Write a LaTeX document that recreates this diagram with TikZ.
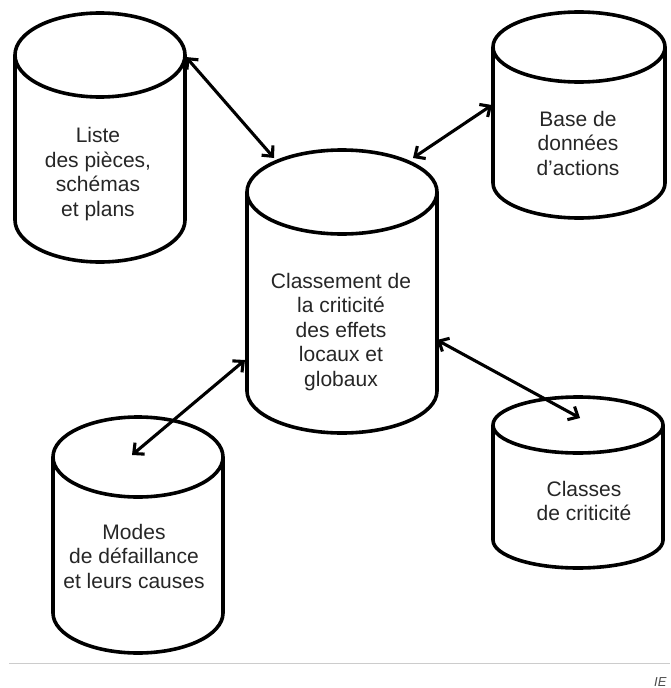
\documentclass[tikz,border=0pt]{standalone}
\usepackage{fontspec}
\setmainfont{Liberation Sans}
\usetikzlibrary{arrows.meta}

% Database drum: centre x, top ellipse centre y, bottom ellipse centre y, x radius, y radius
\newcommand{\drum}[5]{%
  \draw[drumline] ({#1-#4},{-#2}) -- ({#1-#4},{-#3})
    arc[start angle=180, end angle=360, x radius=#4pt, y radius=#5pt]
    -- ({#1+#4},{-#2});
  \draw[drumline] (#1,{-#2}) ellipse[x radius=#4pt, y radius=#5pt];
}

\tikzset{
  drumline/.style={line width=3.6pt, black, fill=white, line join=round},
  label/.style={align=center, text=black!85, inner sep=0pt,
    font=\fontsize{21}{24.5}\selectfont,
    execute at begin node=\strut, execute at end node=\strut},
  link/.style={line width=3.1pt, black,
    {Straight Barb[length=8pt,width=15pt]}-{Straight Barb[length=8pt,width=15pt]}},
}

\begin{document}
\begin{tikzpicture}[x=1pt,y=1pt]
  \useasboundingbox (0,0) rectangle (670,-688);

  % the five data stores
  \drum{100}{55}{220}{85}{42}
  \drum{579}{47}{183}{86}{35}
  \drum{342}{192}{391}{95}{42}
  \drum{138}{457}{613}{85}{40}
  \drum{578}{425}{540}{85}{28}

  % captions
  \node[label] (liste)   at (98,-175.6)  {Liste\\des pièces,\\schémas\\ et plans};
  \node[label] (base)    at (578,-146.6) {Base de\\données\\d’actions};
  \node[label] (classt)  at (341,-333.1) {Classement de\\la criticité\\des effets\\locaux et\\ globaux};
  \node[label] (classes) at (584,-504.6) {Classes\\ de criticité};
  \node[label] (modes)   at (134,-560)   {Modes\\de défaillance\\et leurs causes};

  % connector end points on the drums
  \coordinate (listeR)   at (186,-57);
  \coordinate (centreNW) at (274,-158);
  \coordinate (baseL)    at (492,-105);
  \coordinate (centreNE) at (413,-158);
  \coordinate (centreW)  at (245,-360);
  \coordinate (modesTop) at (132,-455);
  \coordinate (centreE)  at (437,-340);
  \coordinate (classTop) at (580,-418);

  \draw[link] (listeR) -- (centreNW);
  \draw[link] (baseL) -- (centreNE);
  \draw[link] (centreW) -- (modesTop);
  \draw[link] (centreE) -- (classTop);

  % footer rule and source mark
  \coordinate (ruleL) at (9,-663);
  \coordinate (ruleR) at (670,-663);
  \draw[black!20, line width=1pt] (ruleL) -- (ruleR);
  \node[anchor=base west, inner sep=0pt, text=black!70,
        font=\fontsize{13}{15}\selectfont\itshape] (mark) at (654,-686) {IE};
\end{tikzpicture}
\end{document}
